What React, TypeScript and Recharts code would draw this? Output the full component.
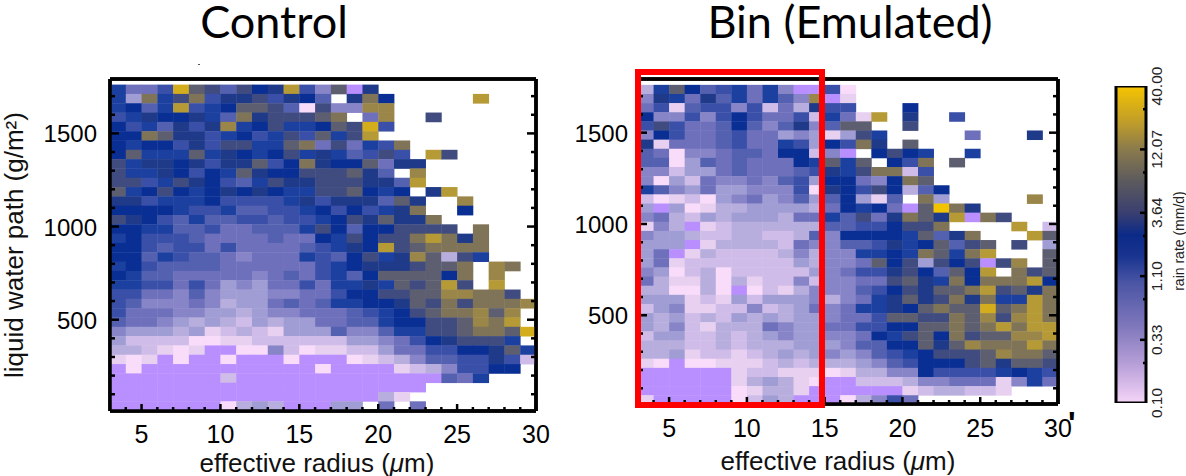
import { Bar, BarChart, Scatter, ScatterChart, XAxis, YAxis } from "recharts";

// rain rate per heatmap cell, top row first (1712-1762 g/m2) and 27 columns from 3 to 30 um.
// each char is an index into RATE_LEVELS; "." = no data, "_" = below the colour bar range
const CONTROL_ROWS = [
  "9668hdc7cabg85d_b..........",
  "94e9ce8bbc8ba7.bea.....g...",
  "9a79g89addc70c55ff.........",
  "89baab97ebcccde.6f..c......",
  "a897b8bf9ac99adch8.........",
  "aaedbb89a89c8d9cg..........",
  "a9aa8b8cc99de6c698e........",
  "ad999d9ba9ac9b978c8.gc.....",
  "c9bbab8bbd8aebaad6bb.......",
  "c99ba8a9dbaacccdb7.f.......",
  "cc89cba879cbbcccbb7g.......",
  "d9aca9ababa99ccda9a.bg.....",
  "bb8999a88889b8bbb7db..f....",
  "aaaa988977889a8a89be..a....",
  "cba87977887889acbdbbe......",
  "aa99778667779ca7aacccc.e...",
  "9a88876666766a9caccegebe...",
  "aa8788686666789bagcdeeee...",
  "aa7987765666987ac9bfd3c9...",
  "9a8777766666689abbbcdde.fe.",
  "a977666665676897addddae.f..",
  "9988686454668699b9dcdgc.g..",
  "886657544455668aaccddffeec.",
  "8755565344676799aabdceceeef",
  "866655443455666789acdeefdf.",
  "766543432434466779aaccdfeg.",
  "54443412321444755799ccdeedh",
  "42222001122222244568abccc9.",
  "332101__00520112246688aabd9",
  "101_0__0___0___012357788b82",
  "_0___________0____123588aa.",
  "_______2_____________769...",
  "____________________.......",
  "_________________31........",
  "_______0343___44.6.6.......",
];

const BIN_ROWS = [
  "39da789695__80.............",
  "5b96b796975f_1.............",
  "68178858263b88...a.........",
  "a55858a86682961g.b..8......",
  "8c8667a757b57dd..c.........",
  "5a866786645414c9.....6...b.",
  "b16667866984a8eb.d.........",
  "760556776aa25_.aca9..9.....",
  "7704767666a9d9d.a8e.d......",
  "552446766678b9cee28........",
  "504265565784aa65aed........",
  "975464455580ba8ca37a.......",
  "2012045645747a417.e4.....f.",
  "4_40133444436a9a6_dieb.....",
  "56324344436697c6bedbg_ec...",
  "153_123333337788acce....g.2",
  "5443223322375aaaa9d7be...gd",
  "444_133332655778b9ad7cd.c.4",
  "46_1322223535599a9ed9eg...d",
  "461222222243556dac4cac_cf.d",
  "5402302222245688bca7dag.ecd",
  "6311303122525566cdb9eaeeega",
  "330030_021355578acbddegcdbe",
  "4441214244453569bdbcebe99ge",
  "2451122523465699badeddhdege",
  "4342324343445668ddccedfcfge",
  "4352133365446688aaddedegegg",
  "244223234544556a9cdaecddffg",
  "3332232333444577aadbdfeeege",
  "334122123434545789acccdfeed",
  "10_001112323334578aaacdbddc",
  "______122111013355a88889a98",
  "______134310__2223556661596",
  "______01331______1233221...",
  "1_____0243___03586.........",
];

const LEVEL_KEYS = "0123456789abcdefghi";
const RATE_LEVELS = [0.1, 0.13, 0.17, 0.23, 0.3, 0.4, 0.55, 0.75, 1.0, 1.4, 2.0, 2.8, 3.8, 5.5, 8, 12, 18, 27, 40];
const RATE_COLORS = [
  "#f8dcfa", "#e8d0f0", "#d0bce8", "#b8aede", "#a09cd4", "#8884c8", "#6e70bc", "#5460b0", "#3a50a8", "#1c40a0",
  "#0a2f94", "#1f3a88", "#404c80", "#5d5e70", "#7f7458", "#9a8648", "#b69a36", "#d4ad1c", "#f2c400",
];
const BELOW_RANGE_COLOR = "#b98fff";

const X_TICKS = [4, 5, 6, 7, 8, 9, 10, 11, 12, 13, 14, 15, 16, 17, 18, 19, 20, 21, 22, 23, 24, 25, 26, 27, 28, 29, 30];
const Y_TICKS = [100, 200, 300, 400, 500, 600, 700, 800, 900, 1000, 1100, 1200, 1300, 1400, 1500, 1600, 1700];
const BAR_LABELS = ["0.10", "0.33", "1.10", "3.64", "12.07", "40.00"];
const BAR_MINOR = [0.213, 0.71, 2.35, 7.8, 25.8];
const BAR_STOPS = [
  ["0%", "#f5c400"],
  ["12%", "#bd9b2c"],
  ["20%", "#8a7a4c"],
  ["30%", "#5c5a5e"],
  ["40%", "#3a3f70"],
  ["47%", "#0b2a88"],
  ["54%", "#1a3590"],
  ["62%", "#4a55a4"],
  ["76%", "#8078bc"],
  ["88%", "#b8a0d8"],
  ["100%", "#f5d5f8"],
];

const FONT = '"Liberation Sans", Arial, sans-serif';

function toCells(rows: string[]) {
  const cells: { x: number; y: number; key: string; rate: number }[] = [];
  rows.forEach((row, r) => {
    for (let c = 0; c < row.length; c++) {
      const key = row[c];
      if (key === ".") continue;
      cells.push({
        x: 3.5 + c,
        y: 12 + 50 * (rows.length - 1 - r) + 25,
        key,
        rate: key === "_" ? 0 : RATE_LEVELS[LEVEL_KEYS.indexOf(key)],
      });
    }
  });
  return cells;
}

function cellColor(key: string) {
  return key === "_" ? BELOW_RANGE_COLOR : RATE_COLORS[LEVEL_KEYS.indexOf(key)];
}

function XTick({ x, y, payload, top, labelDy }: any) {
  const major = payload.value % 5 === 0;
  const len = major ? 7 : 4;
  return (
    <g>
      <line x1={x} x2={x} y1={y} y2={top ? y + len : y - len} stroke="#000" strokeWidth={2.5} />
      {!top && major && (
        <text x={x} y={y + labelDy} textAnchor="middle" fontSize={25} fontFamily={FONT} fill="#000">
          {payload.value}
        </text>
      )}
    </g>
  );
}

function YTick({ x, y, payload, right, labelDx }: any) {
  const major = payload.value % 500 === 0;
  const len = major ? 9 : 5;
  return (
    <g>
      <line x1={x} x2={right ? x - len : x + len} y1={y} y2={y} stroke="#000" strokeWidth={2.5} />
      {!right && major && (
        <text x={x - labelDx} y={y + 9} textAnchor="end" fontSize={24} fontFamily={FONT} fill="#000">
          {payload.value}
        </text>
      )}
    </g>
  );
}

interface PanelProps {
  rows: string[];
  left: number;
  width: number;
  frame: { x0: number; x1: number; y0: number; y1: number };
  yDomain: [number, number];
  labelDx: number;
  labelDy: number;
}

function HeatPanel({ rows, left, width, frame, yDomain, labelDx, labelDy }: PanelProps) {
  const height = 476;
  const data = toCells(rows);
  const cellW = (frame.x1 - frame.x0) / 27;
  const cellH = (50 * (frame.y1 - frame.y0)) / (yDomain[1] - yDomain[0]);
  const renderCell = (p: any) => (
    <rect
      x={p.cx - cellW / 2}
      y={p.cy - cellH / 2}
      width={cellW + 0.4}
      height={cellH + 0.4}
      fill={cellColor(p.payload.key)}
    />
  );
  // the axes draw below the series, so a second chart with the same margins puts frame and ticks on top
  const chart = (cells: boolean) => (
    <ScatterChart
      width={width}
      height={height}
      margin={{
        left: frame.x0 - left - 60,
        right: left + width - frame.x1 - 4,
        top: frame.y0 - 4,
        bottom: height - frame.y1 - 50,
      }}
    >
      <XAxis
        xAxisId="bottom"
        type="number"
        dataKey="x"
        domain={[3, 30]}
        ticks={X_TICKS}
        interval={0}
        height={50}
        tickLine={false}
        tickSize={0}
        tickMargin={0}
        axisLine={{ stroke: "#000", strokeWidth: 3.5 }}
        tick={cells ? false : <XTick labelDy={labelDy} />}
      />
      <XAxis
        xAxisId="top"
        orientation="top"
        type="number"
        dataKey="x"
        domain={[3, 30]}
        ticks={X_TICKS}
        interval={0}
        height={4}
        tickLine={false}
        tickSize={0}
        tickMargin={0}
        axisLine={{ stroke: "#000", strokeWidth: 3.5 }}
        tick={cells ? false : <XTick top />}
      />
      <YAxis
        yAxisId="left"
        type="number"
        dataKey="y"
        domain={yDomain}
        allowDataOverflow
        ticks={Y_TICKS}
        interval={0}
        width={60}
        tickLine={false}
        tickSize={0}
        tickMargin={0}
        axisLine={{ stroke: "#000", strokeWidth: 3.5 }}
        tick={cells ? false : <YTick labelDx={labelDx} />}
      />
      <YAxis
        yAxisId="right"
        orientation="right"
        type="number"
        dataKey="y"
        domain={yDomain}
        allowDataOverflow
        ticks={Y_TICKS}
        interval={0}
        width={4}
        tickLine={false}
        tickSize={0}
        tickMargin={0}
        axisLine={{ stroke: "#000", strokeWidth: 3.5 }}
        tick={cells ? false : <YTick right />}
      />
      <Scatter
        data={data}
        xAxisId="bottom"
        yAxisId="left"
        shape={cells ? renderCell : () => null}
        isAnimationActive={false}
      />
    </ScatterChart>
  );
  return (
    <>
      <div style={{ position: "absolute", left, top: 0, filter: "blur(0.5px)" }}>{chart(true)}</div>
      <div style={{ position: "absolute", left, top: 0 }}>{chart(false)}</div>
    </>
  );
}

function BarTick({ x, y, payload }: any) {
  const labelled = BAR_LABELS.find((l) => Number(l) === payload.value);
  const major = labelled !== undefined;
  return (
    <g>
      {payload.value > 0.1 && payload.value < 40 && (
        <line x1={x} x2={x - (major ? 6 : 3)} y1={y} y2={y} stroke="#000" strokeWidth={2.5} />
      )}
      {major && (
        <text
          transform={`translate(${x + 16},${y}) rotate(-90)`}
          textAnchor="middle"
          fontSize={15.5}
          fontFamily={FONT}
          fill="#222"
        >
          {labelled}
        </text>
      )}
    </g>
  );
}

function ColorBar() {
  const ticks = [...BAR_LABELS.map(Number), ...BAR_MINOR].sort((a, b) => a - b);
  const data = [{ name: "rain", range: [0.1, 40] }];
  return (
    <div style={{ position: "absolute", left: 1090, top: 60 }}>
      <BarChart
        width={96}
        height={360}
        data={data}
        barCategoryGap={0}
        margin={{ left: 26, right: 0, top: 26, bottom: 17 }}
      >
        <defs>
          <linearGradient id="rainGradient" x1="0" y1="0" x2="0" y2="1">
            {BAR_STOPS.map(([offset, color]) => (
              <stop key={offset} offset={offset} stopColor={color} />
            ))}
          </linearGradient>
        </defs>
        <XAxis dataKey="name" hide />
        <YAxis
          orientation="right"
          scale="log"
          type="number"
          domain={[0.1, 40]}
          allowDataOverflow
          ticks={ticks}
          interval={0}
          width={40}
          tickLine={false}
          tickSize={0}
          tickMargin={0}
          axisLine={false}
          tick={<BarTick />}
        />
        <Bar
          dataKey="range"
          fill="url(#rainGradient)"
          stroke="#000"
          strokeWidth={3}
          isAnimationActive={false}
        />
      </BarChart>
    </div>
  );
}

const titleStyle: React.CSSProperties = {
  position: "absolute",
  fontFamily: "Lato, sans-serif",
  fontSize: 45,
  lineHeight: "46px",
  color: "#000",
  whiteSpace: "nowrap",
  transform: "translateX(-50%)",
};

const axisStyle: React.CSSProperties = {
  position: "absolute",
  fontFamily: FONT,
  fontSize: 26,
  lineHeight: "28px",
  color: "#111",
  whiteSpace: "nowrap",
};

export default function App() {
  return (
    <div style={{ position: "absolute", left: 0, top: 0, width: 1186, height: 476, overflow: "hidden", background: "#fff" }}>
      <HeatPanel
        rows={CONTROL_ROWS}
        left={0}
        width={560}
        frame={{ x0: 110, x1: 536, y0: 79, y1: 411 }}
        yDomain={[10, 1792]}
        labelDx={13}
        labelDy={32}
      />
      <HeatPanel
        rows={BIN_ROWS}
        left={560}
        width={520}
        frame={{ x0: 638, x1: 1058, y0: 79, y1: 404 }}
        yDomain={[14, 1794]}
        labelDx={10}
        labelDy={33}
      />
      <ColorBar />

      {/* red box around the emulated small-radius range */}
      <div style={{ position: "absolute", left: 635, top: 69, width: 178, height: 327, border: "6px solid #f00" }} />

      <div style={{ ...titleStyle, left: 274, top: -2 }}>Control</div>
      <div style={{ ...titleStyle, left: 850, top: -2 }}>Bin (Emulated)</div>

      <div style={{ ...axisStyle, left: 14, top: 245, transform: "translate(-50%,-50%) rotate(-90deg)" }}>
        liquid water path (g/m²)
      </div>
      <div style={{ ...axisStyle, left: 317, top: 449, transform: "translateX(-50%)" }}>
        effective radius (<i>μ</i>m)
      </div>
      <div style={{ ...axisStyle, left: 838, top: 447, transform: "translateX(-50%)" }}>
        effective radius (<i>μ</i>m)
      </div>
      <div
        style={{
          ...axisStyle,
          fontSize: 14,
          lineHeight: "16px",
          left: 1179,
          top: 241,
          color: "#222",
          transform: "translate(-50%,-50%) rotate(-90deg)",
        }}
      >
        rain rate (mm/d)
      </div>
      {/* stray marks in the source picture */}
      <div style={{ position: "absolute", left: 1068, top: 407, fontFamily: FONT, fontWeight: 700, fontSize: 32, lineHeight: "32px" }}>'</div>
      <div style={{ position: "absolute", left: 198, top: 64, width: 2, height: 1, background: "#555" }} />
    </div>
  );
}
